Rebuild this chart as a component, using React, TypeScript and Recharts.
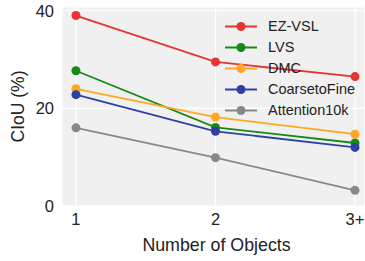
import React from "react";
import { LineChart, Line, XAxis, YAxis, CartesianGrid, Legend } from "recharts";

const objectCounts = [1, 2, 3];
const xTickLabels = ["1", "2", "3+"];
const yTicks = [0, 20, 40];

const ezVsl = [39.0, 29.5, 26.5];
const lvs = [27.7, 16.1, 12.9];
const dmc = [24.0, 18.2, 14.7];
const coarseToFine = [22.8, 15.3, 12.0];
const attention10k = [16.0, 9.9, 3.2];

const series = [
  { key: "ezvsl", name: "EZ-VSL", values: ezVsl, color: "#e53530" },
  { key: "lvs", name: "LVS", values: lvs, color: "#168a16" },
  { key: "dmc", name: "DMC", values: dmc, color: "#ffa726" },
  { key: "c2f", name: "CoarsetoFine", values: coarseToFine, color: "#2f40a3" },
  { key: "att", name: "Attention10k", values: attention10k, color: "#888888" },
];

const data = objectCounts.map((x, i) => {
  const row: Record<string, number> = { x };
  series.forEach((s) => {
    row[s.key] = s.values[i];
  });
  return row;
});

const FONT = "'Liberation Sans', Arial, sans-serif";
const TEXT = "#222222";
const seriesOrder = series.map((s) => s.name);

function LegendBox(props: any) {
  const items = [...(props.payload || [])].sort(
    (a: any, b: any) => seriesOrder.indexOf(a.value) - seriesOrder.indexOf(b.value)
  );
  return (
    <div style={{ fontFamily: FONT, fontSize: 14.5, color: TEXT }}>
      {items.map((it: any) => (
        <div
          key={it.value}
          style={{ display: "flex", alignItems: "center", height: 21 }}
        >
          <svg width={36} height={21}>
            <line x1={2} y1={10.5} x2={34} y2={10.5} stroke={it.color} strokeWidth={2} />
            <circle cx={18} cy={10.5} r={4.5} fill={it.color} />
          </svg>
          <span style={{ marginLeft: 9, lineHeight: "21px" }}>{it.value}</span>
        </div>
      ))}
    </div>
  );
}

export default function App() {
  return (
    <div style={{ position: "absolute", left: 0, top: 0, background: "#fff" }}>
      <LineChart
        width={365}
        height={261}
        data={data}
        margin={{ top: 7, right: 0, bottom: 0, left: 0 }}
      >
        <CartesianGrid fill="#f0f0f0" stroke="#ffffff" strokeWidth={1.2} />
        <XAxis
          dataKey="x"
          type="number"
          domain={[0.9, 3.0717]}
          ticks={objectCounts}
          tickFormatter={(v: number) => xTickLabels[objectCounts.indexOf(v)] ?? String(v)}
          allowDataOverflow
          height={55}
          tickLine={false}
          axisLine={false}
          tickSize={6}
          tickMargin={1}
          tick={{ fontSize: 16.5, fill: TEXT, fontFamily: FONT }}
          label={{
            value: "Number of Objects",
            position: "insideBottom",
            offset: 10,
            dx: 3,
            style: { fontSize: 17.8, fill: TEXT, fontFamily: FONT },
          }}
        />
        <YAxis
          type="number"
          domain={[0, 40.75]}
          ticks={yTicks}
          allowDataOverflow
          width={62}
          tickLine={false}
          axisLine={false}
          tickSize={6}
          tickMargin={2}
          tick={{ fontSize: 16.5, fill: TEXT, fontFamily: FONT }}
          label={{
            value: "CIoU (%)",
            angle: -90,
            position: "insideLeft",
            offset: 18,
            style: { fontSize: 17.5, fill: TEXT, fontFamily: FONT, textAnchor: "middle" },
          }}
        />
        <Legend
          layout="horizontal"
          verticalAlign="middle"
          align="center"
          wrapperStyle={{ top: 16, left: 223 }}
          content={LegendBox}
        />
        {series.map((s) => (
          <Line
            key={s.key}
            dataKey={s.key}
            name={s.name}
            stroke={s.color}
            strokeWidth={1.8}
            dot={{ r: 4.5, fill: s.color, stroke: s.color, strokeWidth: 0 }}
            activeDot={false}
            isAnimationActive={false}
          />
        ))}
      </LineChart>
    </div>
  );
}
